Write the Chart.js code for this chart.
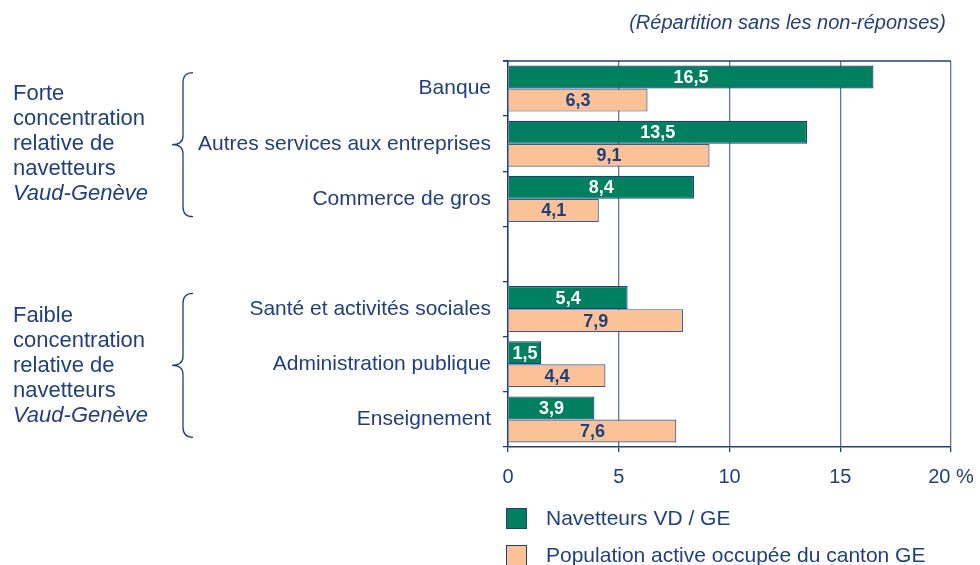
<!DOCTYPE html>
<html>
<head>
<meta charset="utf-8">
<script src="https://cdn.jsdelivr.net/npm/chart.js@4"></script>
<style>
body{margin:0;background:#fff;font-family:"Liberation Sans",Arial,sans-serif;color:#1f3f7f}
#wrap{position:relative;width:980px;height:565px;overflow:hidden}
#chart{position:absolute;left:0;top:0}
.note{position:absolute;right:34px;top:11px;font-size:20px;font-style:italic;white-space:nowrap}
.group{position:absolute;left:13px;font-size:22px;line-height:25px}
.leg{position:absolute;left:506px;height:20px;font-size:21px;white-space:nowrap}
.leg span{position:absolute;left:0;top:0;width:19px;height:19px;border:1px solid #1f3f7f}
.leg b{position:absolute;left:40px;top:-2px;font-weight:normal;line-height:24px}
</style>
</head>
<body>
<div id="wrap">
<canvas id="chart" width="980" height="565"></canvas>
<div class="note">(Répartition sans les non-réponses)</div>
<div class="group" style="top:80px">Forte<br>concentration<br>relative de<br>navetteurs<br><i>Vaud-Genève</i></div>
<div class="group" style="top:302px">Faible<br>concentration<br>relative de<br>navetteurs<br><i>Vaud-Genève</i></div>
<div id="legend"></div>
</div>
<script>
// données
let categories = ["Banque", "Autres services aux entreprises", "Commerce de gros", "", "Santé et activités sociales", "Administration publique", "Enseignement"];
let navetteurs = [16.5, 13.5, 8.4, null, 5.4, 1.5, 3.9];
let populationGE = [6.3, 9.1, 4.1, null, 7.9, 4.4, 7.6];
let seriesNames = ["Navetteurs VD / GE", "Population active occupée du canton GE"];
let xTicks = [0, 5, 10, 15, 20];

let dark = "#1f3f7f";
let green = "#00805f";
let orange = "#fbc298";

// legende
let legTops = [508, 545];
let legColors = [green, orange];
for(let i=0; i<seriesNames.length; i++) {
    let d = document.createElement("div");
    d.className = "leg";
    d.style.top = legTops[i]+"px";
    d.innerHTML = '<span style="background:'+legColors[i]+'"></span><b>'+seriesNames[i]+'</b>';
    document.getElementById("legend").appendChild(d);
}

// étiquettes dans les barres + accolades + ligne du haut
let extras = {
    id:"extras",
    afterDatasetsDraw:function(chart) {
        let ctx = chart.ctx;
        ctx.save();
        ctx.font = "bold 18px 'Liberation Sans', Arial, sans-serif";
        ctx.textAlign = "center";
        ctx.textBaseline = "middle";
        chart.data.datasets.forEach(function(ds, di) {
            let meta = chart.getDatasetMeta(di);
            meta.data.forEach(function(bar, i) {
                let v = ds.data[i];
                if(v === null) return;
                ctx.fillStyle = di == 0 ? "#ffffff" : dark;
                ctx.fillText(String(v).replace(".", ","), (bar.base + bar.x)/2, bar.y + 1);
            });
        });
        ctx.restore();
    },
    afterDraw:function(chart) {
        let ctx = chart.ctx;
        let a = chart.chartArea;
        let y = chart.scales.y;
        ctx.save();
        ctx.strokeStyle = dark;
        ctx.lineWidth = 1.3;
        ctx.beginPath();
        ctx.moveTo(a.left - 5, a.top);
        ctx.lineTo(a.right, a.top);
        ctx.stroke();
        // accolades
        [1, 5].forEach(function(idx) {
            let mid = y.getPixelForValue(idx) + 1;
            let top = mid - 72, bot = mid + 72;
            let x = 183, tip = 172, end = 193;
            ctx.beginPath();
            ctx.moveTo(end, top);
            ctx.quadraticCurveTo(x, top, x, top + 10);
            ctx.lineTo(x, mid - 9);
            ctx.quadraticCurveTo(x, mid, tip, mid);
            ctx.quadraticCurveTo(x, mid, x, mid + 9);
            ctx.lineTo(x, bot - 10);
            ctx.quadraticCurveTo(x, bot, end, bot);
            ctx.stroke();
        });
        ctx.restore();
    }
};

let chart = new Chart(document.getElementById("chart"), {
    type:"bar",
    plugins:[extras],
    data:{
        labels:categories,
        datasets:[
            {
                label:seriesNames[0],
                data:navetteurs,
                backgroundColor:green,
                borderColor:dark,
                borderWidth:1.2
            },
            {
                label:seriesNames[1],
                data:populationGE,
                backgroundColor:orange,
                borderColor:"#3d5a8a",
                borderWidth:1.2
            }
        ]
    },
    options:{
        indexAxis:"y",
        responsive:false,
        animation:false,
        layout:{padding:{top:61, right:29, left:0, bottom:0}},
        datasets:{bar:{categoryPercentage:0.835, barPercentage:1}},
        plugins:{legend:{display:false}, tooltip:{enabled:false}},
        scales:{
            x:{
                min:0,
                max:20,
                afterFit:function(s){ s.height = 118; s.paddingLeft = 0; s.paddingRight = 0; },
                afterBuildTicks:function(s){ s.ticks = xTicks.map(function(v){ return {value:v}; }); },
                grid:{color:"#5a76a3", lineWidth:1.3, tickLength:5, tickColor:dark},
                border:{color:dark, width:1.5},
                ticks:{
                    color:dark,
                    padding:13,
                    maxRotation:0,
                    font:{family:"'Liberation Sans', Arial, sans-serif", size:20},
                    callback:function(v){ return v == 20 ? "20 %" : String(v); }
                }
            },
            y:{
                afterFit:function(s){ s.width = 508; s.paddingTop = 0; s.paddingBottom = 0; },
                grid:{drawOnChartArea:false, tickLength:5, color:dark, lineWidth:1.3},
                border:{color:dark, width:1.5},
                ticks:{
                    color:dark,
                    padding:12,
                    font:{family:"'Liberation Sans', Arial, sans-serif", size:21}
                }
            }
        }
    }
});
</script>
</body>
</html>
